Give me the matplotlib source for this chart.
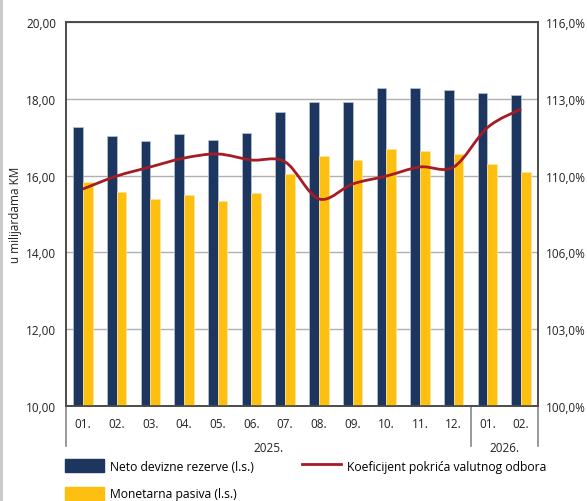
import matplotlib.pyplot as plt
import numpy as np
from matplotlib.path import Path
from matplotlib.patches import PathPatch, Patch
from matplotlib.lines import Line2D

plt.rcParams['font.family'] = ['Open Sans', 'DejaVu Sans']

months = ['01.', '02.', '03.', '04.', '05.', '06.', '07.', '08.', '09.', '10.', '11.', '12.', '01.', '02.']
years = ['2025.', '2026.']
year_counts = [12, 2]

neto_rezerve = [17.27, 17.03, 16.90, 17.08, 16.93, 17.11, 17.66, 17.92, 17.92, 18.28, 18.28, 18.23, 18.15, 18.10]
monetarna_pasiva = [15.83, 15.57, 15.39, 15.49, 15.34, 15.55, 16.04, 16.51, 16.41, 16.69, 16.64, 16.56, 16.30, 16.09]
koeficijent = [109.04, 109.58, 109.96, 110.33, 110.50, 110.25, 110.17, 108.63, 109.25, 109.58, 109.96, 109.96, 111.60, 112.38]

left_ticks = ['10,00', '12,00', '14,00', '16,00', '18,00', '20,00']
right_ticks = ['100,0%', '103,0%', '106,0%', '110,0%', '113,0%', '116,0%']

navy = '#1d3660'
yellow = '#fdc010'
red = '#a51c24'
frame = '#4a4a4a'

fig = plt.figure(figsize=(5.87, 5.02), dpi=100)
ax = fig.add_axes([66 / 587, 1 - 407 / 502, 472 / 587, 384 / 502])
ax2 = ax.twinx()

x = np.arange(len(months))
w = 0.29
ax.bar(x - w / 2, neto_rezerve, w, color=navy, edgecolor='#b9c4d6', linewidth=0.5, zorder=3)
ax.bar(x + w / 2, monetarna_pasiva, w, color=yellow, edgecolor='#fde6a0', linewidth=0.5, zorder=3)

ax.set_ylim(10, 20)
ax.set_xlim(-0.5, len(months) - 0.5)
ax.set_yticks(np.linspace(10, 20, 6))
ax.set_yticklabels(left_ticks)
ax.grid(axis='y', color='#b0b0b0', linewidth=1.0, zorder=0)
ax.set_axisbelow(True)
ax.set_xticks(x)
ax.set_xticklabels(months)
ax.tick_params(length=0, labelsize=8.5, colors='#222222')
ax.tick_params(axis='x', pad=8)
ax.tick_params(axis='y', pad=7)
ax.set_ylabel('u milijardama KM', fontsize=8.5, color='#222222')
ax.yaxis.set_label_coords(-0.093, 0.5)

# smoothed line (bezier through the points)
pts = np.column_stack([x, koeficijent])
verts = [pts[0]]
codes = [Path.MOVETO]
n = len(pts)
for i in range(n - 1):
    p0 = pts[max(i - 1, 0)]
    p1 = pts[i]
    p2 = pts[i + 1]
    p3 = pts[min(i + 2, n - 1)]
    c1 = p1 + (p2 - p0) / 6
    c2 = p2 - (p3 - p1) / 6
    verts += [c1, c2, p2]
    codes += [Path.CURVE4] * 3
ax2.add_patch(PathPatch(Path(verts, codes), facecolor='none', edgecolor=red, linewidth=2.0, zorder=5))

ax2.set_ylim(100, 116)
ax2.set_yticks(np.linspace(100, 116, 6))
ax2.set_yticklabels(right_ticks)
ax2.tick_params(length=0, labelsize=8.5, colors='#222222', pad=5.5)

for a in (ax, ax2):
    for s in a.spines.values():
        s.set_color(frame)
        s.set_linewidth(1.2)

# year separators and labels
bounds = [0]
for c in year_counts:
    bounds.append(bounds[-1] + c)
for b in bounds:
    ax.plot([b - 0.5, b - 0.5], [0, -40 / 384], transform=ax.get_xaxis_transform(),
            color='#888888', linewidth=1.2, clip_on=False)
for i, yr in enumerate(years):
    mid = (bounds[i] + bounds[i + 1] - 1) / 2
    ax.text(mid, -42 / 384, yr, transform=ax.get_xaxis_transform(), ha='center', va='center',
            fontsize=8.5, color='#222222')

# left border of the figure
fig.add_artist(Line2D([1 / 587, 1 / 587], [0, 1], color='#c8c8c8', linewidth=2))

handles = [Patch(facecolor=navy, edgecolor=navy),
           Patch(facecolor=yellow, edgecolor=yellow),
           Line2D([], [], color=red, linewidth=2.0)]
labels = ['Neto devizne rezerve (l.s.)', 'Monetarna pasiva (l.s.)', 'Koeficijent pokrića valutnog odbora']
fig.legend(handles, labels, ncol=2, loc='upper left', bbox_to_anchor=(65 / 587, 1 - 460 / 502),
           frameon=False, fontsize=8.7, handlelength=3.2, handleheight=1.3, handletextpad=0.5,
           columnspacing=4.0, labelspacing=1.15, borderpad=0, borderaxespad=0)

fig.savefig('out.png', dpi=100)
